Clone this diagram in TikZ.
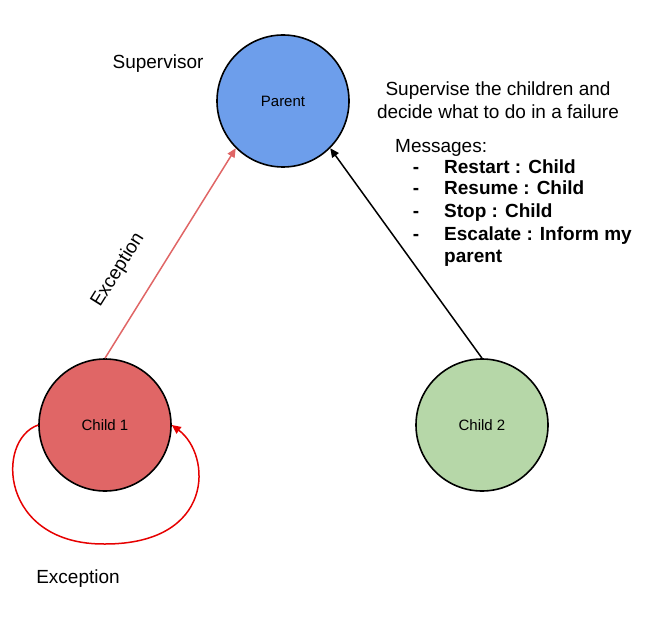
\documentclass[tikz,border=0pt]{standalone}
\usepackage{fontspec}
\setmainfont{Liberation Sans}
\usetikzlibrary{arrows.meta}
\definecolor{pblue}{RGB}{109,158,235}
\definecolor{cred}{RGB}{224,102,102}
\definecolor{cgreen}{RGB}{182,215,168}
\definecolor{loopred}{RGB}{230,0,0}
\tikzset{
  actor/.style={circle,draw=black,line width=1.6pt,minimum size=132pt,inner sep=0pt,font=\fontsize{15}{18}\selectfont},
  lbl/.style={inner sep=0pt,font=\fontsize{19}{23}\selectfont},
  blbl/.style={inner sep=0pt,anchor=base west,font=\fontsize{19}{23}\selectfont\bfseries},
  dashlbl/.style={inner sep=0pt,anchor=base,font=\fontsize{19}{23}\selectfont\bfseries},
  tip/.style={-{Triangle[length=9pt,width=8pt]}},
}
\begin{document}
\begin{tikzpicture}[x=1pt,y=-1pt]
\useasboundingbox (0,0) rectangle (652,620);
\node[actor,fill=pblue] (parent) at (283,101) {Parent};
\node[actor,fill=cred] (c1) at (105,425) {Child 1};
\node[actor,fill=cgreen] (c2) at (482,425) {Child 2};
\node[lbl] (sup) at (158,64) {Supervisor};
\node[lbl,align=center] (desc) at (498,100) {Supervise the children and\\decide what to do in a failure};
\node[lbl,anchor=base west] (msg) at (395,153) {Messages:};
\node[dashlbl] (d1) at (416,174) {-};
\node[dashlbl] (d2) at (416,195) {-};
\node[dashlbl] (d3) at (416,217) {-};
\node[dashlbl] (d4) at (416,240) {-};
\node[blbl] (m1) at (444,174) {Restart : Child};
\node[blbl] (m2) at (444,195) {Resume : Child};
\node[blbl] (m3) at (444,217) {Stop : Child};
\node[blbl] (m4) at (444,240) {Escalate : Inform my};
\node[blbl] (m5) at (444,262) {parent};
\draw[tip,cred,line width=1.5pt] (c1.north) -- (parent.225);
\draw[tip,black,line width=1.5pt] (c2.north) -- (parent.315);
\node[lbl,rotate=58] (exc1) at (118,270) {Exception};
\draw[tip,loopred,line width=1.5pt] (c1.west) .. controls (-5,440) and (0,545) .. (105,544) .. controls (215,544) and (212,455) .. (c1.east);
\node[lbl] (exc2) at (78,579) {Exception};
\end{tikzpicture}
\end{document}
